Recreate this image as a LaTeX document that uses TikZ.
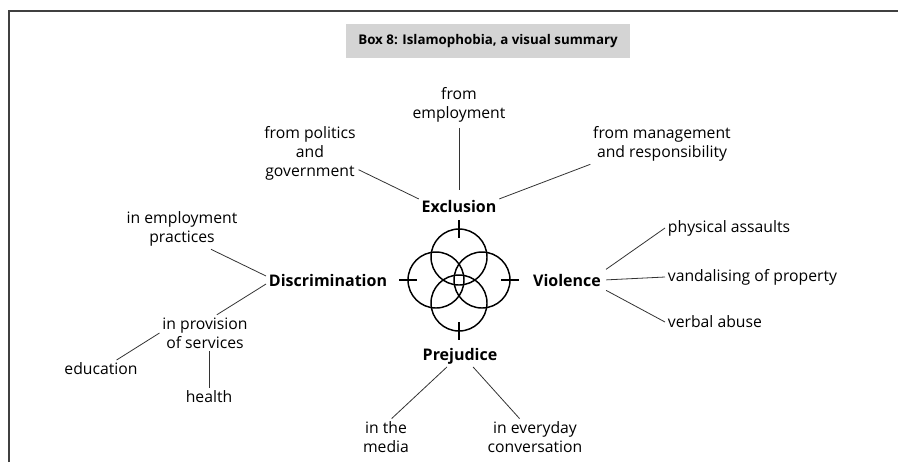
\documentclass[tikz,border=0pt]{standalone}
\usepackage{fontspec}
\setmainfont{Open Sans}
\usetikzlibrary{calc}
\tikzset{
	>=latex,
	lbl/.style={align=center, inner sep=2pt, font=\fontsize{11.8}{14.2}\selectfont},
	hub/.style={lbl, font=\fontsize{12}{14.2}\selectfont\bfseries},
	link/.style={draw=black!80, line width=0.6pt},
	ring/.style={line width=1.1pt}
}
\begin{document}
\begin{tikzpicture}[x=0.75pt, y=-0.75pt]
			\useasboundingbox (0,0) rectangle (898,462);
			\draw [line width=1.5pt, black!75] (9,462) -- (9,11) -- (898,11);
			\node (title) [fill=black!17, minimum width=213pt, minimum height=25.5pt, font=\fontsize{10}{12}\selectfont\bfseries] at (488,41) {Box 8: Islamophobia, a visual summary};
			\node (excl) [hub] at (459,206) {Exclusion};
			\node (disc) [hub] at (328,280) {Discrimination};
			\node (viol) [hub] at (567,280) {Violence};
			\node (prej) [hub] at (460,356) {Prejudice};
			\node (emp) [lbl] at (459,105) {from\\employment};
			\node (pol) [lbl] at (310,153) {from politics\\and\\government};
			\node (mgmt) [lbl] at (662,144) {from management\\and responsibility};
			\node (ipr) [lbl] at (182,229) {in employment\\practices};
			\node (prov) [lbl] at (205,333) {in provision\\of services};
			\node (edu) [lbl] at (101,369) {education};
			\node (health) [lbl] at (209,397) {health};
			\node (phys) [lbl, anchor=west] at (665,228) {physical assaults};
			\node (vand) [lbl, anchor=west] at (665,277) {vandalising of property};
			\node (verb) [lbl, anchor=west] at (665,322) {verbal abuse};
			\node (media) [lbl] at (386,437) {in the\\media};
			\node (conv) [lbl] at (535,437) {in everyday\\conversation};
			\draw [ring] (459,257) circle [radius=21pt];
			\draw [ring] (436,280) circle [radius=21pt];
			\draw [ring] (482,280) circle [radius=21pt];
			\draw [ring] (459,303) circle [radius=21pt];
			\draw [ring] (459,220) -- (459,238);
			\draw [ring] (399,280) -- (417,280);
			\draw [ring] (501,280) -- (519,280);
			\draw [ring] (459,322) -- (459,340);
			\draw [link, shorten <=2pt, shorten >=5pt] (emp) -- (excl);
			\draw [link] (pol.-19) -- (excl.170);
			\draw [link] (mgmt.south west) -- (excl.10);
			\draw [link] (ipr.-35) -- ([yshift=3pt]disc.west);
			\draw [link] (prov.57) -- ([yshift=-3pt]disc.west);
			\draw [link] (prov.west) -- (edu.30);
			\draw [link] (health.north |- prov.south) -- (health.north);
			\draw [link, shorten <=2pt] (viol.north east) -- (phys.west);
			\draw [link, shorten <=2pt] (viol.east) -- (vand.west);
			\draw [link, shorten <=2pt] (viol.south east) -- (verb.west);
			\draw [link] (prej.-140) -- (media.73);
			\draw [link] (prej.-40) -- (conv.130);
		\end{tikzpicture}
\end{document}
